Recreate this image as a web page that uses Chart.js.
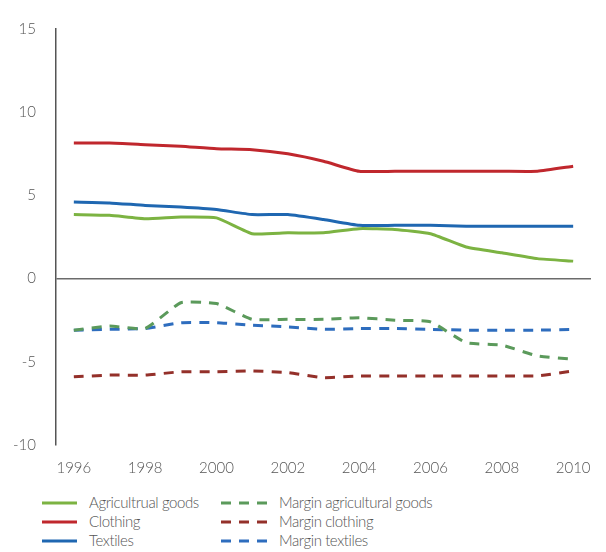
<!DOCTYPE html>
<html>
<head>
<meta charset="utf-8">
<script src="https://cdn.jsdelivr.net/npm/chart.js@4"></script>
<style>
  body { margin: 0; background: #fff; }
  #wrap { position: relative; width: 606px; height: 552px; }
  #chart { position: absolute; left: 0; top: 0; }
  #legend { position: absolute; left: 0; top: 493px; font-family: Lato, sans-serif; font-weight: 300; font-size: 15px; letter-spacing: -0.4px; color: #555; }
  .item { position: absolute; height: 19px; line-height: 19px; white-space: nowrap; }
  .item svg { position: absolute; top: 0; }
  .item span { position: absolute; top: 0; }
</style>
</head>
<body>
<div id="wrap">
  <canvas id="chart" width="606" height="480"></canvas>
  <div id="legend"></div>
</div>
<script>
const years = ['1996', '1997', '1998', '1999', '2000', '2001', '2002', '2003', '2004', '2005', '2006', '2007', '2008', '2009', '2010'];
const yTicks = [-10, -5, 0, 5, 10, 15];

const agricultural = [3.85, 3.8, 3.6, 3.7, 3.65, 2.7, 2.75, 2.75, 3.0, 2.95, 2.7, 1.9, 1.55, 1.2, 1.05];
const clothing = [8.15, 8.15, 8.05, 7.95, 7.8, 7.75, 7.5, 7.05, 6.45, 6.45, 6.45, 6.45, 6.45, 6.45, 6.75];
const textiles = [4.6, 4.55, 4.4, 4.3, 4.15, 3.85, 3.85, 3.55, 3.2, 3.2, 3.2, 3.15, 3.15, 3.15, 3.15];
const marginAgricultural = [-3.1, -2.85, -3.0, -1.45, -1.5, -2.45, -2.45, -2.45, -2.35, -2.5, -2.6, -3.85, -4.0, -4.65, -4.85];
const marginClothing = [-5.9, -5.8, -5.8, -5.6, -5.6, -5.55, -5.65, -5.95, -5.85, -5.85, -5.85, -5.85, -5.85, -5.85, -5.55];
const marginTextiles = [-3.1, -3.05, -3.0, -2.65, -2.65, -2.8, -2.9, -3.05, -3.0, -3.0, -3.05, -3.1, -3.1, -3.1, -3.05];

function series(label, data, color, dashed) {
    return {
        label,
        data,
        borderColor: color,
        backgroundColor: color,
        borderWidth: 3,
        borderDash: dashed ? [10, 8] : [],
        pointRadius: 0,
        tension: 0.15,
        fill: false
    };
}

const datasets = [
    series('Agricultrual goods', agricultural, '#7cb342', false),
    series('Clothing', clothing, '#c0272d', false),
    series('Textiles', textiles, '#1f67b1', false),
    series('Margin agricultural goods', marginAgricultural, '#5b9a5b', true),
    series('Margin clothing', marginClothing, '#94302a', true),
    series('Margin textiles', marginTextiles, '#2e6dbe', true)
];

const tickFont = { family: 'Lato, sans-serif', size: 15, weight: 300 };

const chart = new Chart(document.getElementById('chart'), {
    type: 'line',
    data: { labels: years, datasets },
    options: {
        responsive: false,
        animation: false,
        layout: { padding: { top: 28, right: 15, left: 0, bottom: 0 } },
        plugins: { legend: { display: false }, tooltip: { enabled: false } },
        scales: {
            x: {
                offset: true,
                grid: { display: false, drawTicks: false },
                border: { display: false },
                ticks: {
                    color: '#555',
                    font: tickFont,
                    padding: 14,
                    maxRotation: 0,
                    autoSkip: false,
                    callback: (v, i) => (i % 2 === 0 ? years[i] : '')
                },
                afterFit: scale => { scale.height = 35; }
            },
            y: {
                min: -10,
                max: 15,
                afterBuildTicks: scale => { scale.ticks = yTicks.map(v => ({ value: v })); },
                grid: {
                    drawTicks: false,
                    color: ctx => (ctx.tick && ctx.tick.value === 0 ? '#6b6b6b' : 'rgba(0,0,0,0)'),
                    lineWidth: 1.5
                },
                border: { display: true, color: '#555', width: 1.5 },
                ticks: { color: '#555', font: tickFont, padding: 20 },
                afterFit: scale => { scale.width = 56; }
            }
        }
    }
});

// legend in two columns, built from the datasets
const legend = document.getElementById('legend');
chart.data.datasets.forEach((ds, i) => {
    const col = i < 3 ? 0 : 1;
    const row = i % 3;
    const item = document.createElement('div');
    item.className = 'item';
    item.style.left = (col === 0 ? 42 : 221) + 'px';
    item.style.top = (row * 19) + 'px';
    const w = col === 0 ? 35 : 46;
    const dash = ds.borderDash.length ? 'stroke-dasharray="10 8"' : '';
    item.innerHTML = `<svg width="${w}" height="19"><line x1="0" y1="10" x2="${w}" y2="10" stroke="${ds.borderColor}" stroke-width="3" ${dash}/></svg>` +
        `<span style="left:${col === 0 ? 47 : 58}px">${ds.label}</span>`;
    legend.appendChild(item);
});
</script>
</body>
</html>
